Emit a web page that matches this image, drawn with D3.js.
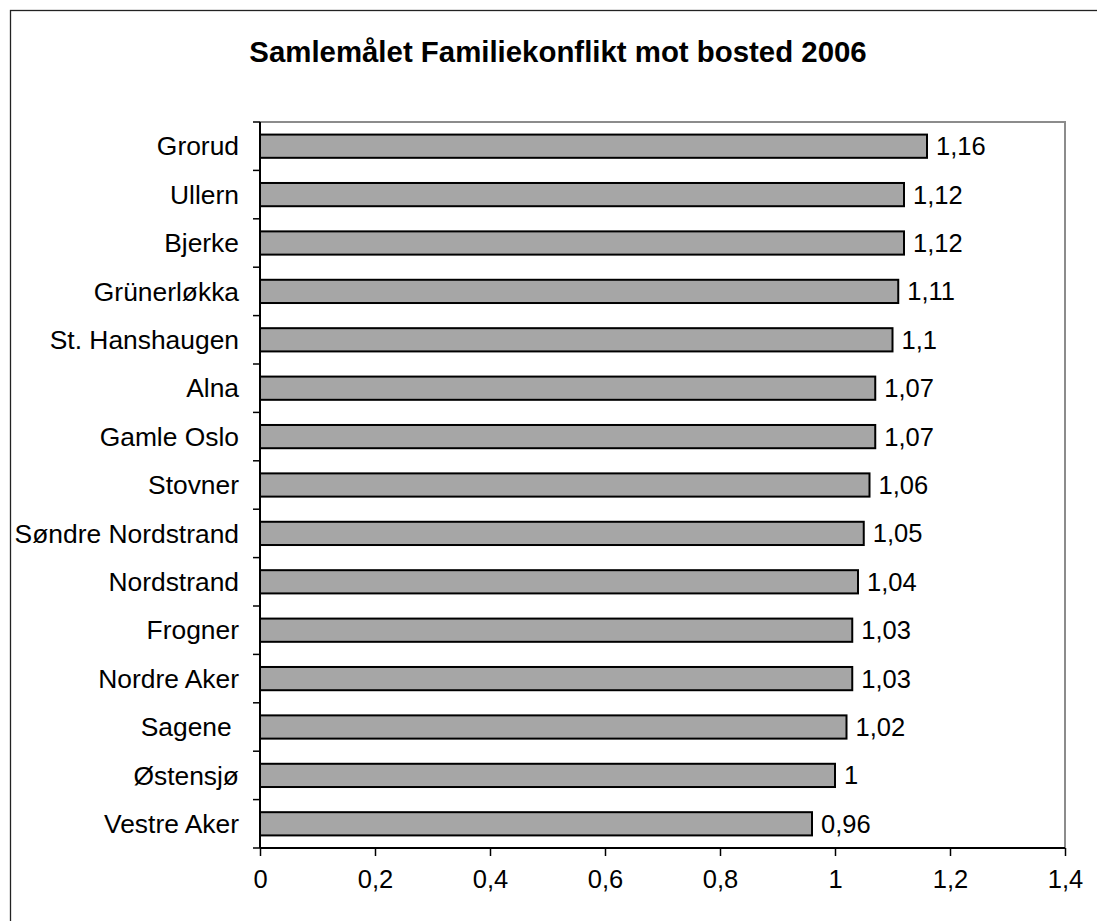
<!DOCTYPE html>
<html>
<head>
<meta charset="utf-8">
<script src="https://cdn.jsdelivr.net/npm/d3@7"></script>
<style>
  html, body { margin: 0; padding: 0; background: #fff; }
  svg { display: block; }
  text { font-family: "Liberation Sans", Arial, Helvetica, sans-serif; fill: #000; }
</style>
</head>
<body>
<svg id="chart" width="1097" height="921"></svg>
<script>
const categories = ["Grorud", "Ullern", "Bjerke", "Grünerløkka", "St. Hanshaugen", "Alna", "Gamle Oslo", "Stovner", "Søndre Nordstrand", "Nordstrand", "Frogner", "Nordre Aker", "Sagene ", "Østensjø", "Vestre Aker"];
const values = [1.16, 1.12, 1.12, 1.11, 1.1, 1.07, 1.07, 1.06, 1.05, 1.04, 1.03, 1.03, 1.02, 1, 0.96];
const xTicks = [0, 0.2, 0.4, 0.6, 0.8, 1, 1.2, 1.4];
const title = "Samlemålet Familiekonflikt mot bosted 2006";

const fmt = v => String(+v.toFixed(2)).replace(".", ",");

const svg = d3.select("#chart");
const plot = { left: 260, right: 1065, top: 122, bottom: 848 };

// outer chart border
svg.append("rect")
  .attr("x", 10.5).attr("y", 10.5)
  .attr("width", 1200).attr("height", 1200)
  .attr("fill", "none").attr("stroke", "#222").attr("stroke-width", 1.3);

svg.append("text")
  .attr("x", 558).attr("y", 62)
  .attr("text-anchor", "middle")
  .attr("font-size", 29.4).attr("font-weight", "bold")
  .text(title);

const x = d3.scaleLinear().domain([0, 1.4]).range([plot.left, plot.right]);
const y = d3.scaleBand().domain(categories).range([plot.top, plot.bottom])
  .paddingInner(0.52).paddingOuter(0.26);

// plot area border (top, right) gray
svg.append("path")
  .attr("d", `M${plot.left},${plot.top}H${plot.right}V${plot.bottom}`)
  .attr("fill", "none").attr("stroke", "#8c8c8c").attr("stroke-width", 2);

// bars
svg.append("g").selectAll("rect").data(values).join("rect")
  .attr("x", x(0))
  .attr("y", (d, i) => y(categories[i]))
  .attr("width", d => x(d) - x(0))
  .attr("height", y.bandwidth())
  .attr("fill", "#a6a6a6")
  .attr("stroke", "#000").attr("stroke-width", 2);

// value labels
svg.append("g").selectAll("text").data(values).join("text")
  .attr("x", d => x(d) + 9)
  .attr("y", (d, i) => y(categories[i]) + y.bandwidth() / 2)
  .attr("dy", "0.35em")
  .attr("font-size", 25.5)
  .text(d => fmt(d));

// x axis
const xAxis = d3.axisBottom(x).tickValues(xTicks).tickSize(8).tickPadding(14).tickFormat(fmt);
const gx = svg.append("g").attr("transform", `translate(0,${plot.bottom})`).call(xAxis);
gx.select(".domain").attr("stroke", "#000").attr("stroke-width", 2).attr("d", `M${plot.left},0H${plot.right}`);
gx.selectAll(".tick line").attr("stroke", "#000").attr("stroke-width", 1.5);
gx.selectAll(".tick text").attr("font-size", 25.5).attr("font-family", "Liberation Sans, Arial, sans-serif").attr("fill", "#000");

// y axis: line, ticks at band boundaries
const step = y.step();
const bounds = categories.map(c => y(c) - step * y.paddingInner() / 2).concat([plot.bottom]);
svg.append("line")
  .attr("x1", plot.left).attr("x2", plot.left)
  .attr("y1", plot.top).attr("y2", plot.bottom)
  .attr("stroke", "#000").attr("stroke-width", 2);
svg.append("g").selectAll("line").data(bounds).join("line")
  .attr("x1", plot.left - 7).attr("x2", plot.left)
  .attr("y1", d => d).attr("y2", d => d)
  .attr("stroke", "#000").attr("stroke-width", 1.5);

svg.append("g").selectAll("text").data(categories).join("text")
  .attr("x", plot.left - 21)
  .attr("y", c => y(c) + y.bandwidth() / 2)
  .attr("dy", "0.35em")
  .attr("text-anchor", "end")
  .attr("font-size", 26.4)
  .style("white-space", "pre")
  .text(c => c);
</script>
</body>
</html>
